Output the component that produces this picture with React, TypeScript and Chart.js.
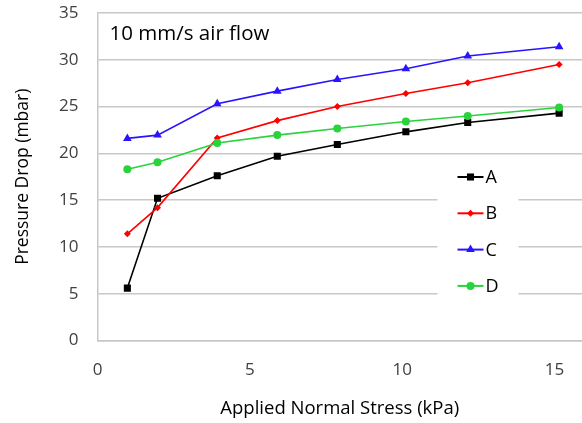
import React, { useEffect, useRef } from "react";
import { Chart, registerables } from "chart.js";

Chart.register(...registerables);

const xValues = [0.98, 1.97, 3.93, 5.9, 7.87, 10.12, 12.15, 15.15];
const seriesA = [5.6, 15.2, 17.6, 19.7, 20.95, 22.3, 23.3, 24.3];
const seriesB = [11.4, 14.2, 21.65, 23.5, 25.0, 26.4, 27.55, 29.5];
const seriesC = [21.6, 21.95, 25.3, 26.65, 27.9, 29.05, 30.4, 31.4];
const seriesD = [18.3, 19.05, 21.1, 21.95, 22.65, 23.4, 24.0, 24.9];
const seriesNames = ["A", "B", "C", "D"];
const xTicks = [0, 5, 10, 15];
const chartTitle = "10 mm/s air flow";
const xTitle = "Applied Normal Stress (kPa)";
const yTitle = "Pressure Drop (mbar)";

const FONT = "'Open Sans', sans-serif";
const colors = ["#000000", "#ff0000", "#2a14ff", "#2ad23c"];
const styles = ["rect", "rectRot", "triangle", "circle"];
const radii = [5, 3.5, 5, 4];

function drawMarker(ctx: CanvasRenderingContext2D, style: string, x: number, y: number, r: number, color: string) {
  ctx.save();
  ctx.fillStyle = color;
  ctx.beginPath();
  if (style === "rect") {
    const s = Math.SQRT1_2 * r;
    ctx.rect(x - s, y - s, 2 * s, 2 * s);
  } else if (style === "rectRot") {
    ctx.moveTo(x, y - r);
    ctx.lineTo(x + r, y);
    ctx.lineTo(x, y + r);
    ctx.lineTo(x - r, y);
    ctx.closePath();
  } else if (style === "triangle") {
    ctx.moveTo(x, y - r);
    ctx.lineTo(x + r * 0.866, y + r * 0.5);
    ctx.lineTo(x - r * 0.866, y + r * 0.5);
    ctx.closePath();
  } else {
    ctx.arc(x, y, r, 0, Math.PI * 2);
  }
  ctx.fill();
  ctx.restore();
}

const overlayPlugin = {
  id: "overlay",
  afterDatasetsDraw(chart: any) {
    const ctx: CanvasRenderingContext2D = chart.ctx;
    const area = chart.chartArea;
    ctx.save();
    ctx.font = `20.5px ${FONT}`;
    ctx.fillStyle = "#000";
    ctx.textBaseline = "middle";
    ctx.textAlign = "left";
    ctx.fillText(chartTitle, area.left + 12, area.top + 21);
    const boxL = area.left + 340;
    const boxT = area.top + 148;
    ctx.fillStyle = "#ffffff";
    ctx.fillRect(boxL, boxT, 81, 146);
    ctx.font = `18px ${FONT}`;
    chart.data.datasets.forEach((ds: any, i: number) => {
      const y = area.top + 164 + i * 36.3;
      const x0 = boxL + 20;
      ctx.strokeStyle = ds.borderColor;
      ctx.lineWidth = 2;
      ctx.beginPath();
      ctx.moveTo(x0, y);
      ctx.lineTo(x0 + 26, y);
      ctx.stroke();
      drawMarker(ctx, styles[i], x0 + 13, y, radii[i], ds.borderColor);
      ctx.fillStyle = "#000";
      ctx.fillText(ds.label, x0 + 28, y + 1);
    });
    ctx.restore();
  },
};

export default function App() {
  const ref = useRef<HTMLCanvasElement>(null);
  useEffect(() => {
    document.body.style.margin = "0";
    const series = [seriesA, seriesB, seriesC, seriesD];
    const chart = new Chart(ref.current!, {
      type: "scatter",
      data: {
        datasets: series.map((s, i) => ({
          label: seriesNames[i],
          data: s.map((v, j) => ({ x: xValues[j], y: v })),
          showLine: true,
          borderColor: colors[i],
          backgroundColor: colors[i],
          borderWidth: 1.6,
          pointStyle: styles[i] as any,
          pointRadius: radii[i],
          pointBorderWidth: 0,
          order: 3 - i,
        })),
      },
      plugins: [overlayPlugin],
      options: {
        responsive: false,
        animation: false,
        layout: { autoPadding: false, padding: { top: 13, right: 0, left: 0, bottom: 0 } },
        plugins: { legend: { display: false }, tooltip: { enabled: false } },
        scales: {
          x: {
            type: "linear",
            min: 0,
            max: 15.9,
            afterBuildTicks: (scale: any) => {
              scale.ticks = xTicks.map((v) => ({ value: v }));
            },
            afterFit: (scale: any) => {
              scale.height = 82.5;
              scale.paddingLeft = 0;
              scale.paddingRight = 0;
            },
            grid: { display: false, drawTicks: false },
            border: { display: true, color: "#c8c8c8", width: 1.5 },
            ticks: { font: { family: FONT, size: 17 }, color: "#404040", padding: 19, maxRotation: 0 },
            title: {
              display: true,
              text: xTitle,
              font: { family: FONT, size: 18.5 },
              color: "#000",
              padding: { top: 0, bottom: 3 },
            },
          },
          y: {
            min: 0,
            max: 35,
            ticks: { stepSize: 5, font: { family: FONT, size: 17 }, color: "#404040", padding: 19 },
            afterFit: (scale: any) => {
              scale.width = 97.5;
              scale.paddingTop = 0;
              scale.paddingBottom = 0;
            },
            grid: { color: "#c8c8c8", lineWidth: 1.5, drawTicks: false },
            border: { display: true, color: "#c8c8c8", width: 1.5 },
            title: {
              display: true,
              text: yTitle,
              font: { family: FONT, size: 17.5 },
              color: "#000",
              padding: { top: 13, bottom: 0 },
            },
          },
        },
      },
    });
    return () => chart.destroy();
  }, []);
  return (
    <div style={{ width: 582, height: 423 }}>
      <canvas ref={ref} width={582} height={423} />
    </div>
  );
}
